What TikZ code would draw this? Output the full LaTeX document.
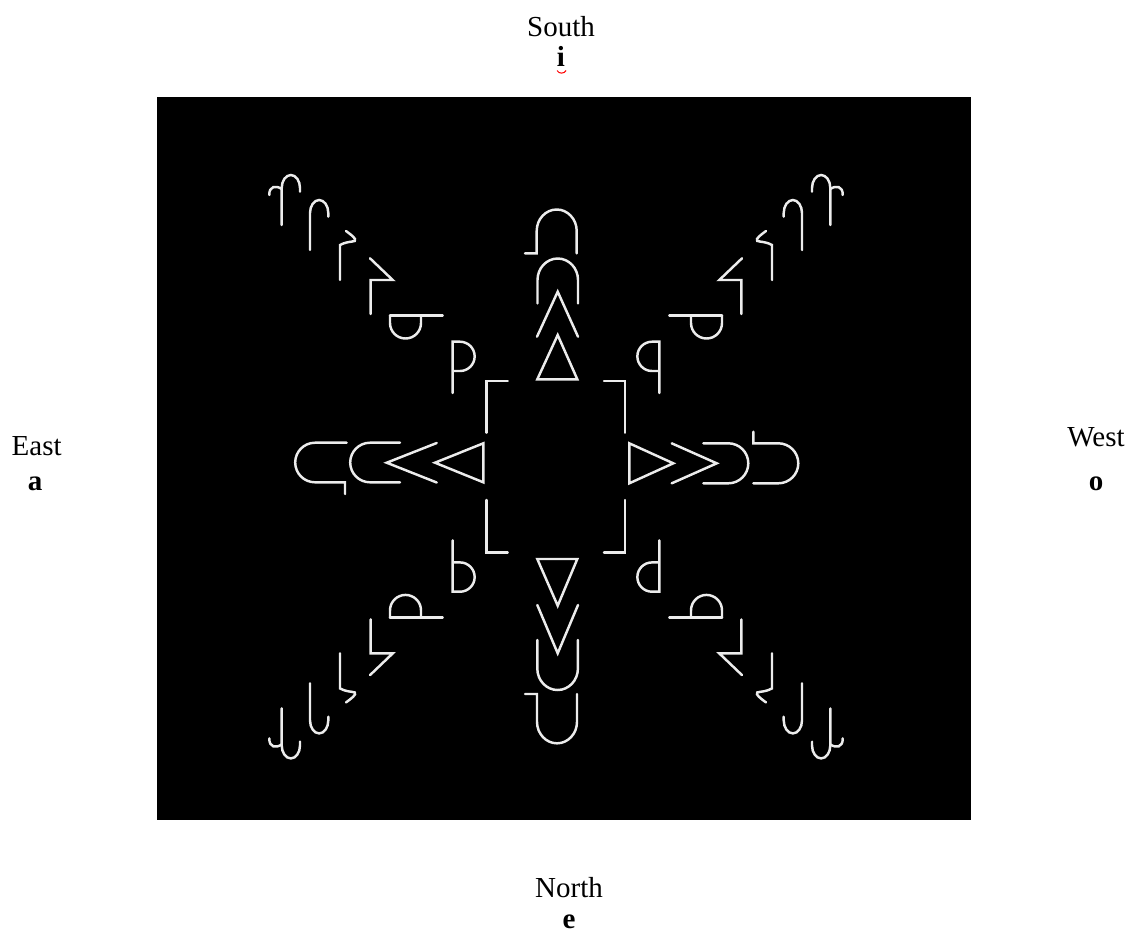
\documentclass[tikz,border=0pt]{standalone}
\usepackage{fontspec}
\setmainfont{Liberation Serif}
\definecolor{ink}{RGB}{236,236,236}
\newcommand\cornerarm{%
 \draw[glyph] (452.7,393) -- (452.7,341.7) -- (460,341.7) arc[start angle=-90,end angle=90,radius=14.65] -- (452.7,371);
 \draw[glyph] (390,315.7) -- (442.7,315.7);
 \draw[glyph] (390,315.7) -- (390,323) arc[start angle=180,end angle=0,radius=15.5] -- (421,315.7);
 \draw[glyph] (370.7,314) -- (370.7,280) -- (392.7,280) -- (370,258.3);
 \draw[glyph] (340,280) -- (340,245) .. controls (349,240) and (357,243) .. (355,239) .. controls (353,236) and (350,234) .. (346,231);
 \draw[glyph] (310,250) -- (310,213) arc[start angle=180,end angle=360,x radius=9.15,y radius=13] -- (328.3,216.7);
 \draw[glyph] (281.7,225) -- (281.7,188) arc[start angle=180,end angle=360,x radius=9.15,y radius=13] -- (300,191.7);
 \draw[glyph] (281.7,189) .. controls (276,185) and (269,186) .. (269.3,195);
}
\begin{document}
\begin{tikzpicture}[x=0.02cm,y=-0.02cm,
  glyph/.style={draw=ink,line width=1.4pt,line cap=round},
  label/.style={font=\fontsize{16.5}{19}\selectfont, anchor=base, inner sep=0pt},
  letter/.style={font=\fontsize{16.5}{19}\selectfont\bfseries, anchor=base, inner sep=0pt}]
\useasboundingbox (0,0) rectangle (1131,934);
\fill[black] (157,97) rectangle (971,820);
% corner arms
\cornerarm
\begin{scope}[shift={(1112,0)},xscale=-1]\cornerarm\end{scope}
\begin{scope}[shift={(0,933.4)},yscale=-1]\cornerarm\end{scope}
\begin{scope}[shift={(1112,933.4)},xscale=-1,yscale=-1]\cornerarm\end{scope}
% central brackets
\draw[glyph] (507.7,381) -- (486.7,381) -- (486.7,432.7);
\draw[glyph] (604,381) -- (625,381) -- (625,432.7);
\draw[glyph] (486.7,500) -- (486.7,552.7) -- (507.7,552.7);
\draw[glyph] (625,500) -- (625,552.7) -- (604,552.7);
% top arm
\draw[glyph] (557.7,335) -- (577.3,379.3) -- (537.3,379.3) -- cycle;
\draw[glyph] (537,336.7) -- (557.7,291.7) -- (578,336.7);
\draw[glyph] (537.5,303.3) -- (537.5,280) arc[start angle=180,end angle=360,x radius=20.25,y radius=21.5] -- (578,303.3);
\draw[glyph] (525,253.3) -- (536.7,253.3) -- (536.7,231) arc[start angle=180,end angle=360,x radius=20,y radius=21.5] -- (576.7,253.3);
% bottom arm
\draw[glyph] (537.3,559) -- (577.3,559) -- (557.7,605.7) -- cycle;
\draw[glyph] (537.3,605) -- (557.7,653.3) -- (578,605);
\draw[glyph] (537.3,640) -- (537.3,668.5) arc[start angle=180,end angle=0,x radius=20.3,y radius=21.5] -- (577.9,640);
\draw[glyph] (525,694) -- (537,694) -- (537,721.8) arc[start angle=180,end angle=0,x radius=20,y radius=21.5] -- (577,694);
% left arm
\draw[glyph] (483.3,443.3) -- (483.3,482.3) -- (435,462.7) -- cycle;
\draw[glyph] (436.7,443) -- (386.7,462.7) -- (436.7,482.5);
\draw[glyph] (400,442.7) -- (370,442.7) arc[start angle=270,end angle=90,radius=19.8] -- (400,482.3);
\draw[glyph] (346.7,442.7) -- (315,442.7) arc[start angle=270,end angle=90,radius=19.8] -- (345,482.3) -- (345,494);
% right arm
\draw[glyph] (629.3,443.3) -- (629.3,483.3) -- (673.3,463.3) -- cycle;
\draw[glyph] (671.7,443.3) -- (716.7,463.3) -- (671.7,483.3);
\draw[glyph] (703.3,443.3) -- (728.3,443.3) arc[start angle=-90,end angle=90,radius=20] -- (703.3,483.3);
\draw[glyph] (753.3,431.7) -- (753.3,443.3) -- (778.3,443.3) arc[start angle=-90,end angle=90,radius=20] -- (753.3,483.3);
% labels
\node[label] (south) at (561,36) {South};
\node[letter] (i) at (561,66.7) {i};
\draw[red,line width=0.6pt] (557,70.5) .. controls (559,74) and (564,74) .. (566,70.5);
\node[label] (east) at (36.7,455) {East};
\node[letter] (a) at (35,490) {a};
\node[label] (west) at (1096,446.7) {West};
\node[letter] (o) at (1096,490) {o};
\node[label] (north) at (569,897) {North};
\node[letter] (e) at (569,928) {e};
\end{tikzpicture}
\end{document}
